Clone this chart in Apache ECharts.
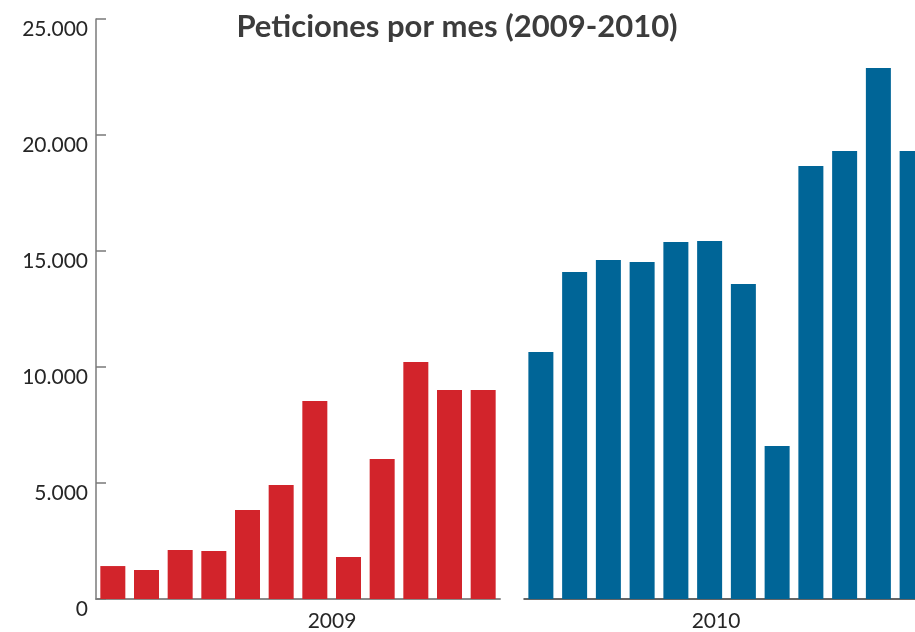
<!DOCTYPE html>
<html>
<head>
<meta charset="utf-8">
<script src="https://cdn.jsdelivr.net/npm/echarts@6/dist/echarts.min.js"></script>
<style>
  html, body { margin: 0; padding: 0; background: #fff; }
  #chart { width: 915px; height: 632px; }
</style>
</head>
<body>
<div id="chart"></div>
<script>
// monthly requests
const months = ['ene', 'feb', 'mar', 'abr', 'may', 'jun', 'jul', 'ago', 'sep', 'oct', 'nov', 'dic']
const peticiones2009 = [1420, 1250, 2110, 2070, 3840, 4910, 8530, 1810, 6030, 10220, 9010, 9010]
const peticiones2010 = [10650, 14100, 14610, 14530, 15390, 15430, 13580, 6600, 18660, 19310, 22890, 19310]
const yearLabels = ['2009', '2010']
const yTicks = [0, 5000, 10000, 15000, 20000, 25000]

const font = 'Lato, "Open Sans", sans-serif'
const fmt = v => v === 0 ? '0' : String(v).replace(/\B(?=(\d{3})+(?!\d))/g, '.')

const chart = echarts.init(document.getElementById('chart'))
chart.setOption({
  animation: false,
  title: {
    text: 'Peticiones por mes (2009-2010)',
    left: 452,
    top: 6,
    textAlign: 'center',
    textStyle: { fontFamily: font, fontWeight: 'bold', fontSize: 31, color: '#3c3c3c' }
  },
  grid: [
    { left: 96, width: 404, top: 19, bottom: 33, containLabel: false, outerBoundsMode: 'none' },
    // 2010 panel runs past the right edge, last bar is cut off
    { left: 524, width: 405, top: 19, bottom: 33, containLabel: false, outerBoundsMode: 'none' }
  ],
  xAxis: [{
    type: 'category',
    gridIndex: 0,
    data: months,
    axisLine: { lineStyle: { color: '#8a8a8a', width: 2 } },
    axisTick: { show: false },
    axisLabel: { show: false }
  }, {
    type: 'category',
    gridIndex: 1,
    data: months,
    axisLine: { lineStyle: { color: '#333333', width: 1.5 } },
    axisTick: { show: false },
    axisLabel: { show: false }
  }],
  yAxis: [{
    type: 'value',
    gridIndex: 0,
    min: yTicks[0],
    max: yTicks[yTicks.length - 1],
    interval: 5000,
    axisLine: { show: true, lineStyle: { color: '#7a7a7a', width: 1.5 } },
    axisTick: { show: true, inside: true, length: 10, lineStyle: { color: '#7a7a7a', width: 1.5 } },
    splitLine: { show: false },
    axisLabel: {
      fontFamily: font,
      fontSize: 21,
      color: '#262626',
      margin: 8,
      verticalAlign: 'top',
      formatter: fmt
    }
  }, {
    type: 'value',
    gridIndex: 1,
    min: yTicks[0],
    max: yTicks[yTicks.length - 1],
    interval: 5000,
    show: false,
    splitLine: { show: false }
  }],
  series: [{
    name: yearLabels[0],
    type: 'bar',
    xAxisIndex: 0,
    yAxisIndex: 0,
    barWidth: 25,
    itemStyle: { color: '#d2242b' },
    data: peticiones2009
  }, {
    name: yearLabels[1],
    type: 'bar',
    xAxisIndex: 1,
    yAxisIndex: 1,
    barWidth: 25,
    itemStyle: { color: '#006597' },
    data: peticiones2010
  }],
  graphic: [{
    type: 'text',
    x: 332,
    y: 611,
    style: { text: yearLabels[0], fontFamily: font, fontSize: 21, fill: '#262626', textAlign: 'center' }
  }, {
    type: 'text',
    x: 716,
    y: 611,
    style: { text: yearLabels[1], fontFamily: font, fontSize: 21, fill: '#262626', textAlign: 'center' }
  }]
})
</script>
</body>
</html>
